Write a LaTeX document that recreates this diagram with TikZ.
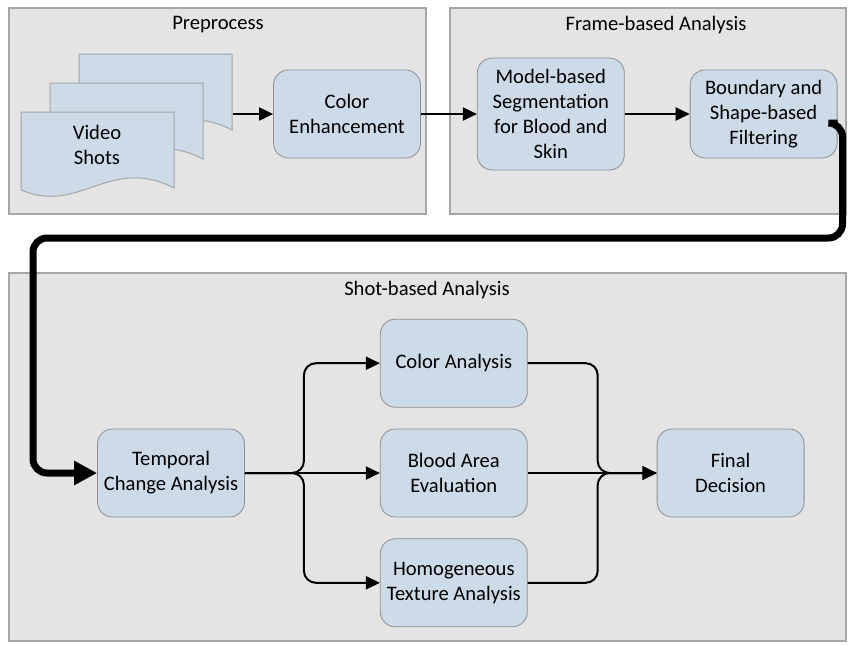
\documentclass[tikz,border=0pt]{standalone}
\usepackage{fontspec}
\setmainfont{Carlito}
\usetikzlibrary{arrows.meta,positioning}
\definecolor{panelgray}{HTML}{E4E4E4}
\definecolor{panelline}{HTML}{A6A6A6}
\definecolor{boxblue}{HTML}{CDDAE8}
\definecolor{boxline}{HTML}{8E8E8E}
\tikzset{
  panel/.style={draw=panelline, fill=panelgray, line width=0.6pt},
  stage/.style={draw=boxline, fill=boxblue, rounded corners=7.5pt, align=center,
    minimum width=73.5pt, minimum height=44pt, inner sep=2pt},
  doc/.style={draw=panelline, fill=boxblue, line width=0.5pt},
  flow/.style={-{Triangle[length=7pt,width=6.5pt]}, line width=1pt},
  bigflow/.style={-{Triangle[length=11.5pt,width=11.5pt]}, line width=3.5pt, rounded corners=7pt},
}

\begin{document}
\begin{tikzpicture}[x=0.5pt, y=-0.5pt, font=\fontsize{10.3}{12.5}\selectfont]
  \useasboundingbox (0,0) rectangle (849,644);
  % panels
  \draw[panel] (9,8) rectangle (426,214);
  \draw[panel] (450,8) rectangle (846,214);
  \draw[panel] (9,273) rectangle (846,641);
  \node (pretitle) at (218,25) {Preprocess};
  \node (frametitle) at (656,25) {Frame-based Analysis};
  \node (shottitle) at (427,290) {Shot-based Analysis};

  % video shots
  \foreach \d in {58,29,0}
    \draw[doc] (21+\d,112-\d) -- (174+\d,112-\d) -- (174+\d,188-\d)
      .. controls (110+\d,155-\d) and (80+\d,215-\d) .. (21+\d,190-\d) -- cycle;
  \node (shots) at (97,145) [align=center] {Video\\Shots};
  \coordinate (docs) at (233,114);

  \node (enh) at (347,114) [stage] {Color\\Enhancement};
  \node (seg) [stage, minimum height=56pt, right=28pt of enh] {Model-based\\Segmentation\\for Blood and\\Skin};
  \node (bnd) [stage, right=32.5pt of seg] {Boundary and\\Shape-based\\Filtering};

  \node (tca) at (171,473) [stage] {Temporal\\Change Analysis};
  \node (blood) [stage, right=67.5pt of tca] {Blood Area\\Evaluation};
  \node (col) [stage, above=10.5pt of blood] {Color Analysis};
  \node (homo) [stage, below=10.5pt of blood] {Homogeneous\\Texture Analysis};
  \node (final) [stage, right=64.5pt of blood] {Final\\Decision};

  \draw[flow] (docs) -- (enh);
  \draw[flow] (enh) -- (seg);
  \draw[flow] (seg) -- (bnd);

  \coordinate (loop) at (33,238);
  \draw[bigflow] ([yshift=-4.5pt]bnd.east) -- ++(5,0) |- (loop) |- (tca.west);

  \draw[flow] (tca) -- (blood);
  \draw[flow, rounded corners=6pt] (tca.east) -- ++(29.5pt,0) |- (col.west);
  \draw[flow, rounded corners=6pt] (tca.east) -- ++(29.5pt,0) |- (homo.west);

  \draw[flow] (blood) -- (final);
  \draw[flow, rounded corners=6pt] (col.east) -- ++(35pt,0) |- (final.west);
  \draw[flow, rounded corners=6pt] (homo.east) -- ++(35pt,0) |- (final.west);
\end{tikzpicture}
\end{document}
